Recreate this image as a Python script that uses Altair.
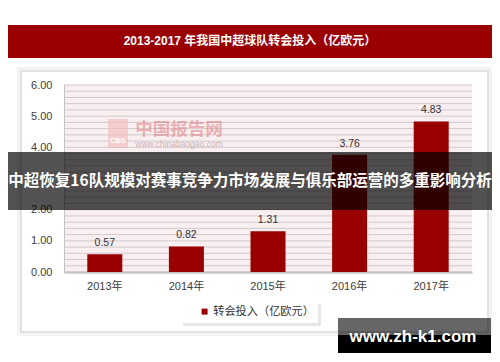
import altair as alt
import pandas as pd

# ---- data ----
YEARS = ["2013年", "2014年", "2015年", "2016年", "2017年"]
VALUES = [0.57, 0.82, 1.31, 3.76, 4.83]
SERIES = "转会投入（亿欧元）"
Y_LABEL_TICKS = [0, 1, 2, 3, 4, 5, 6]
GRID = [round(i * 0.2, 1) for i in range(31)]
TITLE = "2013-2017 年我国中超球队转会投入（亿欧元）"
BANNER = "中超恢复16队规模对赛事竞争力市场发展与俱乐部运营的多重影响分析"
SITE = "www.zh-k1.com"
WM_NAME = "中国报告网"
WM_URL = "www.chinabaogao.com"

df = pd.DataFrame({"year": YEARS, "value": VALUES, "series": [SERIES] * len(YEARS)})
grid_df = pd.DataFrame({"value": GRID})

RED = "#990000"
CJK = "Noto Sans CJK SC"
LAT = "Liberation Sans, Noto Sans CJK SC"
W, H = 408, 187

one = alt.Data(values=[{"k": 1}])


def box(x, x2, y, y2, **kw):
    return alt.Chart(one).mark_rect(**kw).encode(
        x=alt.value(x), x2=alt.value(x2), y=alt.value(y), y2=alt.value(y2)
    )


def label(txt, x, y, **kw):
    return alt.Chart(one).mark_text(text=txt, **kw).encode(x=alt.value(x), y=alt.value(y))


# header band and title
band = box(-56, 428, -60, -27, color="#9a0000")
title = label(TITLE, 186, -44, color="white", font=LAT, fontSize=12, fontWeight="bold",
              align="center", baseline="middle")

# panel shadow (stroke only)
sh1 = box(-45.5, 426.5, -16.5, 249.5, fill=None, fillOpacity=0, stroke="#f3f3f3", strokeWidth=3)
sh2 = box(-43, 424, -14, 247, fill=None, fillOpacity=0, stroke="#e1e1e1", strokeWidth=2)

# legend box
lg_sh = box(119, 257, 219, 241, color="#e6e6e6")
lg_box = box(118, 254, 217, 238, color="white")

yscale = alt.Scale(domain=[0, 6], nice=False)
yaxis = alt.Axis(title=None, values=Y_LABEL_TICKS, ticks=False, grid=False,
                 domainColor="#c4c4c4", format=".2f", labelOverlap=False,
                 labelPadding=12, labelFont=LAT, labelFontSize=11,
                 labelColor="#404040")

# grid lines
grid = alt.Chart(grid_df).mark_rule(color="#d2c9cb", strokeWidth=1).encode(
    y=alt.Y("value:Q", scale=yscale, axis=yaxis)
)

# watermark
wm_logo = box(44, 64, 34, 63, color="#f2b9b9", opacity=0.6)
wm_cbg = label("CBG", 54, 56, color="white", font=LAT, fontSize=7, fontWeight="bold",
               align="center", baseline="middle")
wm_name = label(WM_NAME, 115, 45, color="#e07f84", opacity=0.55, font=CJK, fontSize=17.5,
                fontWeight="bold", align="center", baseline="middle")
wm_url = label(WM_URL, 115, 59, color="#b89a9c", opacity=0.7, font=LAT, fontSize=8.5,
               align="center", baseline="middle")

base = alt.Chart(df)
xenc = alt.X("year:N", sort=YEARS,
             scale=alt.Scale(paddingInner=0.57, paddingOuter=0.285),
             axis=alt.Axis(title=None, labelAngle=0, ticks=False, grid=False,
                           domainColor="#b8b8b8", domainWidth=2, labelPadding=8,
                           labelFont=LAT, labelFontSize=11, labelColor="#404040"))
yenc = alt.Y("value:Q", scale=yscale, axis=yaxis)

bars = base.mark_bar(size=35).encode(
    x=xenc, y=yenc,
    color=alt.Color("series:N", scale=alt.Scale(domain=[SERIES], range=[RED]),
                    legend=alt.Legend(title=None, orient="none", legendX=135, legendY=221,
                                      symbolType="square", symbolSize=36, symbolStrokeWidth=0,
                                      labelFont=CJK, labelFontSize=11.2, labelColor="#333333",
                                      labelOffset=3, padding=0, zindex=1)),
)
vals = base.mark_text(dy=-11, baseline="middle", font=LAT, fontSize=10.5, color="#333333").encode(
    x=alt.X("year:N", sort=YEARS), y=yenc,
    text=alt.Text("value:Q", format=".2f")
)

# overlay banner
ov = box(-56, 428, 67, 125, color="black", opacity=0.68)
ov_txt = label(BANNER, 186, 96, color="white", font=CJK, fontSize=15.5, fontWeight="bold",
               align="center", baseline="middle")

# site badge
site_top = box(274, 427, 233, 250, color="black", opacity=0.6)
site_bot = box(274, 427, 250, 268, color="black")
site_txt = label(SITE, 349, 252, color="white", font="Liberation Sans", fontSize=17,
                 fontWeight="bold", align="center", baseline="middle")

chart = alt.layer(
    band, title, sh1, sh2, lg_sh, lg_box, grid, wm_logo, wm_cbg, wm_name, wm_url,
    bars, vals, ov, ov_txt, site_top, site_bot, site_txt
).properties(
    width=W, height=H,
    padding={"left": 56, "top": 77, "right": 20, "bottom": 82},
    autosize=alt.AutoSizeParams(type="none"),
    background="white",
).configure_view(fill="#f9eff1", strokeWidth=0)

chart.save("out.html", embed_options={"renderer": "svg", "actions": False})
